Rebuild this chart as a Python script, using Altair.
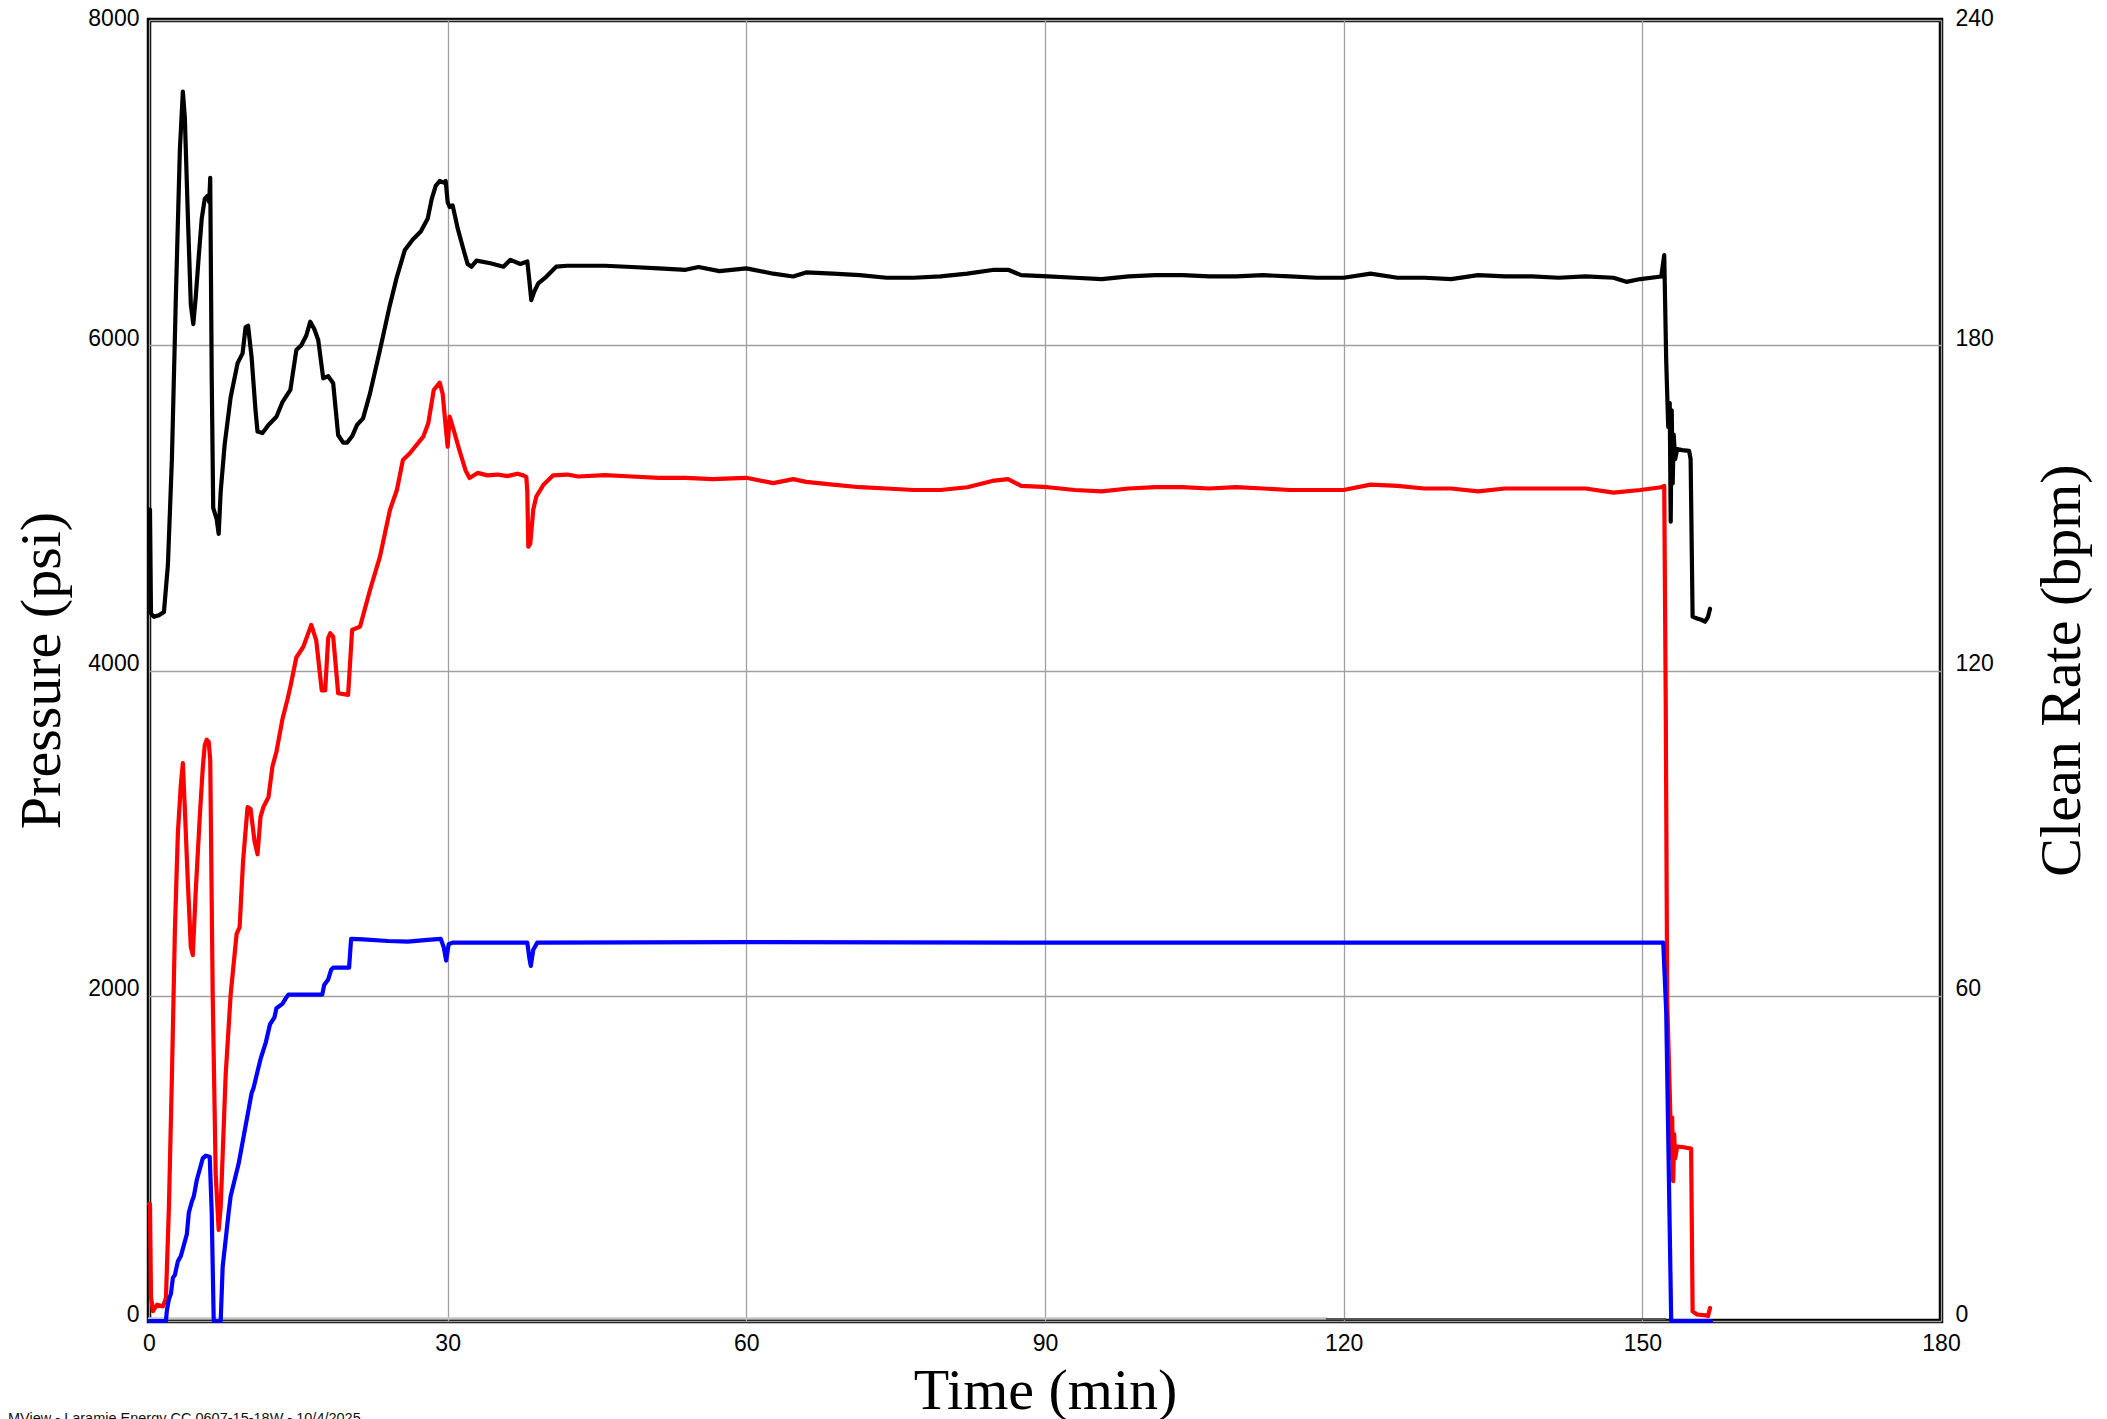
import altair as alt
import pandas as pd

# ---------------- data ----------------
# Black pressure trace (psi)
black_t = [0.0, 0.1, 0.2, 0.5, 1.0, 1.5, 1.9, 2.3, 2.7, 3.1, 3.4, 3.6, 3.9, 4.2, 4.45, 4.7, 5.0, 5.3, 5.6, 5.9,
           6.05, 6.15, 6.3, 6.45, 6.8, 7.0, 7.2, 7.6, 8.2, 8.9, 9.4, 9.7, 9.95, 10.3, 10.7, 10.9, 11.4, 12.0, 12.8,
           13.4, 14.2, 14.8, 15.3, 15.8, 16.2, 16.6, 17.0, 17.5, 18.0, 18.5, 19.0, 19.5, 19.9, 20.4, 20.9, 21.5,
           22.2, 23.2, 24.2, 24.9, 25.7, 26.5, 27.3, 28.0, 28.4, 28.8, 29.2, 29.6, 29.8, 30.0, 30.2, 30.5, 31.0,
           31.6, 32.0, 32.4, 32.9, 34.3, 35.6, 36.3, 37.3, 38.0, 38.2, 38.4, 38.7, 39.1, 39.9, 40.9, 42.0,
           43.1, 45.8, 48.5, 51.2, 53.9, 55.2, 57.3, 60.0, 62.7, 64.7, 66.0, 68.7, 71.4, 74.1, 76.8, 79.5, 82.2,
           84.9, 86.3, 87.6, 90.3, 93.0, 95.7, 98.4, 101.1, 103.8, 106.5, 109.2, 111.9, 114.6, 117.3, 120.0,
           122.7, 125.4, 128.1, 130.8, 133.5, 136.2, 138.9, 141.6, 144.3, 147.1, 148.4, 149.8, 151.9,
           152.2, 152.4, 152.6, 152.75, 152.85, 152.95, 153.05, 153.15, 153.3, 153.5, 154.0, 154.7, 154.85,
           155.05, 155.5, 156.0, 156.3, 156.6, 156.8]
black_psi = [4990, 4990, 4350, 4330, 4340, 4360, 4650, 5300, 6300, 7200, 7560, 7400, 6800, 6250, 6130, 6300, 6550,
             6780, 6900, 6920, 6880, 7030, 5800, 5000, 4930, 4840, 5100, 5390, 5680, 5890, 5950, 6110, 6120, 5930,
             5600, 5470, 5460, 5510, 5560, 5650, 5725, 5971, 6000, 6060, 6145, 6100, 6032, 5797, 5810, 5766, 5448,
             5401, 5401, 5440, 5510, 5550, 5704, 5971, 6248, 6421, 6586, 6650, 6700, 6780, 6900, 6980, 7010, 7000,
             7010, 6880, 6850, 6860, 6720, 6586, 6500, 6483, 6520, 6504, 6483, 6525, 6500, 6515, 6400, 6278, 6330,
             6381, 6421, 6483, 6489,
             6489, 6489, 6481, 6473, 6464, 6481, 6456, 6473, 6440, 6423, 6448, 6440, 6431, 6415, 6415, 6423, 6440,
             6464, 6464, 6431, 6423, 6415, 6407, 6423, 6431, 6431, 6423, 6423, 6431, 6423, 6415, 6415,
             6440, 6415, 6415, 6407, 6431, 6423, 6423, 6415, 6423, 6415, 6390, 6407, 6423,
             6555, 5900, 5497, 5645, 4915, 5600, 5150, 5450, 5300, 5362, 5355, 5350, 5300,
             4331, 4320, 4310, 4300, 4330, 4380]

# Red pressure trace (psi)
red_t = [0.0, 0.1, 0.2, 0.4, 0.8, 1.4, 1.7, 2.0, 2.3, 2.6, 2.9, 3.2, 3.4, 3.6, 3.9, 4.2, 4.4, 4.7, 5.1, 5.4, 5.6,
         5.8, 6.0, 6.15, 6.4, 6.7, 7.0, 7.2, 7.7, 8.2, 8.8, 9.1, 9.45, 9.9, 10.2, 10.6, 10.9, 11.2, 11.5, 12.0,
         12.4, 12.8, 13.4, 13.9, 14.2, 14.8, 15.5, 16.0, 16.3, 16.8, 17.35, 17.7, 18.0, 18.2, 18.5, 18.8, 19.0,
         20.0, 20.4, 21.2, 22.2, 23.2, 24.2, 24.9, 25.5, 26.2, 27.55, 28.05, 28.6, 29.2, 29.5, 29.8, 30.0, 30.2,
         30.6, 31.2, 31.8, 32.2, 33.0, 34.0, 35.0, 36.0, 37.0, 37.6, 37.9, 38.0, 38.1, 38.3, 38.6, 38.9, 39.6,
         40.6, 42.0,
         43.1, 45.8, 48.5, 51.2, 53.9, 56.6, 60.0, 62.7, 64.7, 66.0, 68.7, 71.4, 74.1, 76.8, 79.5, 82.2, 84.9,
         86.3, 87.6, 90.3, 93.0, 95.7, 98.4, 101.1, 103.8, 106.5, 109.2, 111.9, 114.6, 117.3, 120.0, 122.7,
         125.4, 128.1, 130.8, 133.5, 136.2, 138.9, 141.6, 144.3, 147.1, 149.8, 151.9, 152.2,
         152.35, 152.5, 152.8, 152.9, 153.0, 153.1, 153.2, 153.3, 153.5, 154.0, 154.9, 155.05, 155.5, 156.4,
         156.6, 156.8]
red_psi = [720, 720, 150, 60, 100, 90, 140, 700, 1500, 2400, 3000, 3300, 3430, 3150, 2700, 2300, 2250, 2650, 3100,
           3400, 3540, 3575, 3560, 3450, 2000, 900, 560, 700, 1510, 2006, 2380, 2420, 2830, 3160, 3150, 2950, 2870,
           3100, 3162, 3220, 3410, 3500, 3700, 3820, 3900, 4080, 4146, 4230, 4280, 4185, 3878, 3878, 4200, 4229,
           4208, 4000, 3860, 3850, 4249, 4270, 4495, 4700, 4987, 5110, 5294, 5336, 5438, 5520, 5725, 5770, 5700,
           5500, 5376, 5561, 5480, 5350, 5230, 5184, 5215, 5200, 5205, 5195, 5210, 5200, 5190, 5100, 4761, 4780,
           4990, 5069, 5140, 5200, 5205,
           5193, 5201, 5193, 5185, 5185, 5177, 5185, 5152, 5177, 5160, 5143, 5127, 5119, 5110, 5110, 5127, 5168,
           5177, 5135, 5127, 5110, 5102, 5119, 5127, 5127, 5119, 5127, 5119, 5110, 5110, 5110, 5143,
           5135, 5119, 5119, 5102, 5119, 5119, 5119, 5119, 5094, 5110, 5127, 5135,
           3800, 1970, 1300, 1000, 1250, 860, 1150, 1000, 1072, 1070, 1060, 60, 40, 35, 30, 80]

# Blue clean rate trace (bpm)
blue_t = [0.0, 1.7, 1.8, 2.0, 2.2, 2.4, 2.6, 2.9, 3.2, 3.5, 3.8, 4.0, 4.3, 4.5, 4.8, 5.1, 5.4, 5.7, 6.1, 6.3, 6.5,
          7.2, 7.4, 7.7, 8.0, 8.2, 8.6, 9.0, 9.3, 9.6, 9.9, 10.3, 10.5, 10.8, 11.2, 11.75, 12.15, 12.6, 12.8,
          13.4, 13.8, 14.0, 17.4, 17.6, 18.0, 18.3, 18.5, 20.1, 20.3, 21.5, 24.0, 26.0, 28.0, 29.3, 29.6, 29.85,
          30.1, 30.5, 31.0, 38.0, 38.2, 38.35, 38.6, 39.0, 60.0, 90.0, 120.0, 152.1, 152.4, 152.9, 156.9]
blue_bpm = [0, 0, 2, 4, 5, 8, 8.5, 11, 12, 14, 16, 20, 22, 23, 26, 28, 30, 30.5, 30.3, 20, 0,
            0, 10, 15, 20, 23, 26, 29, 32, 35, 38, 42, 43, 45.3, 48.3, 51.5, 54.7, 56, 57.7,
            58.5, 59.7, 60.2, 60.2, 62, 63, 64.8, 65.2, 65.2, 70.5, 70.4, 70.1, 70.0, 70.3, 70.5, 69, 66.5,
            69.5, 69.8, 69.8, 69.8, 67, 65.5, 68.5, 69.8, 69.9, 69.8, 69.8, 69.8, 57, 0, 0]

# Low traces along the bottom (psi scale)
gray_t = [0.0, 118.3]
gray_psi = [15, 15]
dark_t = [118.3, 152.3]
dark_psi = [12, 12]

x_ticks = [0, 30, 60, 90, 120, 150, 180]
p_ticks = [0, 2000, 4000, 6000, 8000]
r_ticks = [0, 60, 120, 180, 240]
footer = "MView - Laramie Energy CC 0607-15-18W - 10/4/2025"

# ---------------- chart ----------------
W, H = 1792, 1301
SANS = "Liberation Sans"
SERIF = "Liberation Serif"

x_enc = alt.X("t:Q", scale=alt.Scale(domain=[0, 180], nice=False, zero=False),
              axis=alt.Axis(values=x_ticks, format="d", title="Time (min)", grid=True, gridColor="#A0A0A0",
                            gridWidth=1.3, domain=False, ticks=False, labelFont=SANS, labelFontSize=23,
                            labelColor="black", labelPadding=11, labelFlush=False, labelOverlap=False,
                            labelBaseline="top",
                            titleFont=SERIF, titleFontSize=58, titleFontWeight="normal", titleColor="black",
                            titleY=87, titleBaseline="alphabetic"))

yp_enc = alt.Y("v:Q", scale=alt.Scale(domain=[0, 8000], nice=False, zero=False),
               axis=alt.Axis(values=p_ticks, format="d", orient="left", title="Pressure (psi)", grid=True,
                             gridColor="#A0A0A0", gridWidth=1.3, domain=False, ticks=False, labelFont=SANS,
                             labelFontSize=23, labelColor="black", labelPadding=10, labelAlign="right",
                             labelBaseline="alphabetic", labelFlush=False, labelOverlap=False,
                             labelOffset={"condition": {"test": "datum.value == 8000", "value": 5}, "value": 0},
                             titleFont=SERIF, titleFontSize=58, titleFontWeight="normal", titleColor="black",
                             titleAngle=270, titleX=-90, titleY=650, titleBaseline="alphabetic", titleAlign="center"))

yr_enc = alt.Y("v:Q", scale=alt.Scale(domain=[0, 240], nice=False, zero=False),
               axis=alt.Axis(values=r_ticks, format="d", orient="right", title="Clean Rate (bpm)", grid=False,
                             domain=False, ticks=False, labelFont=SANS, labelFontSize=23, labelColor="black",
                             labelPadding=14, labelAlign="left", labelBaseline="alphabetic", labelFlush=False,
                             labelOverlap=False,
                             labelOffset={"condition": {"test": "datum.value == 240", "value": 5}, "value": 0},
                             titleFont=SERIF, titleFontSize=58, titleFontWeight="normal", titleColor="black",
                             titleAngle=270, titleX=138, titleY=650, titleBaseline="alphabetic", titleAlign="center"))


def line(ts, vs, color, y_enc, width=4.2):
    df = pd.DataFrame({"t": ts, "v": vs, "i": list(range(len(ts)))})
    return alt.Chart(df).mark_line(color=color, strokeWidth=width, strokeJoin="round", strokeCap="round").encode(
        x=x_enc, y=y_enc, order="i:Q")


gray_layer = line(gray_t, gray_psi, "#C4C4C4", yp_enc, 2.5)
dark_layer = line(dark_t, dark_psi, "#555555", yp_enc, 2)
black_layer = line(black_t, black_psi, "#000000", yp_enc)
red_layer = line(red_t, red_psi, "#FF0000", yp_enc)

foot = alt.Chart(pd.DataFrame({"txt": [footer]})).mark_text(
    font=SANS, fontSize=14.5, color="#111111", align="left", baseline="alphabetic").encode(
    text="txt:N", x=alt.value(-141), y=alt.value(1403))

pressure = alt.layer(gray_layer, dark_layer, black_layer, red_layer, foot)
rate = line(blue_t, blue_bpm, "#0000FF", yr_enc)

chart = alt.layer(pressure, rate).resolve_scale(y="independent").properties(
    width=W, height=H,
    padding={"left": 141, "top": 12, "right": 158, "bottom": 100},
    autosize=alt.AutoSizeParams(type="none"),
    background="white",
).configure_view(stroke="black", strokeWidth=4.5)

chart.save("out.html", embed_options={"renderer": "svg", "actions": False})
